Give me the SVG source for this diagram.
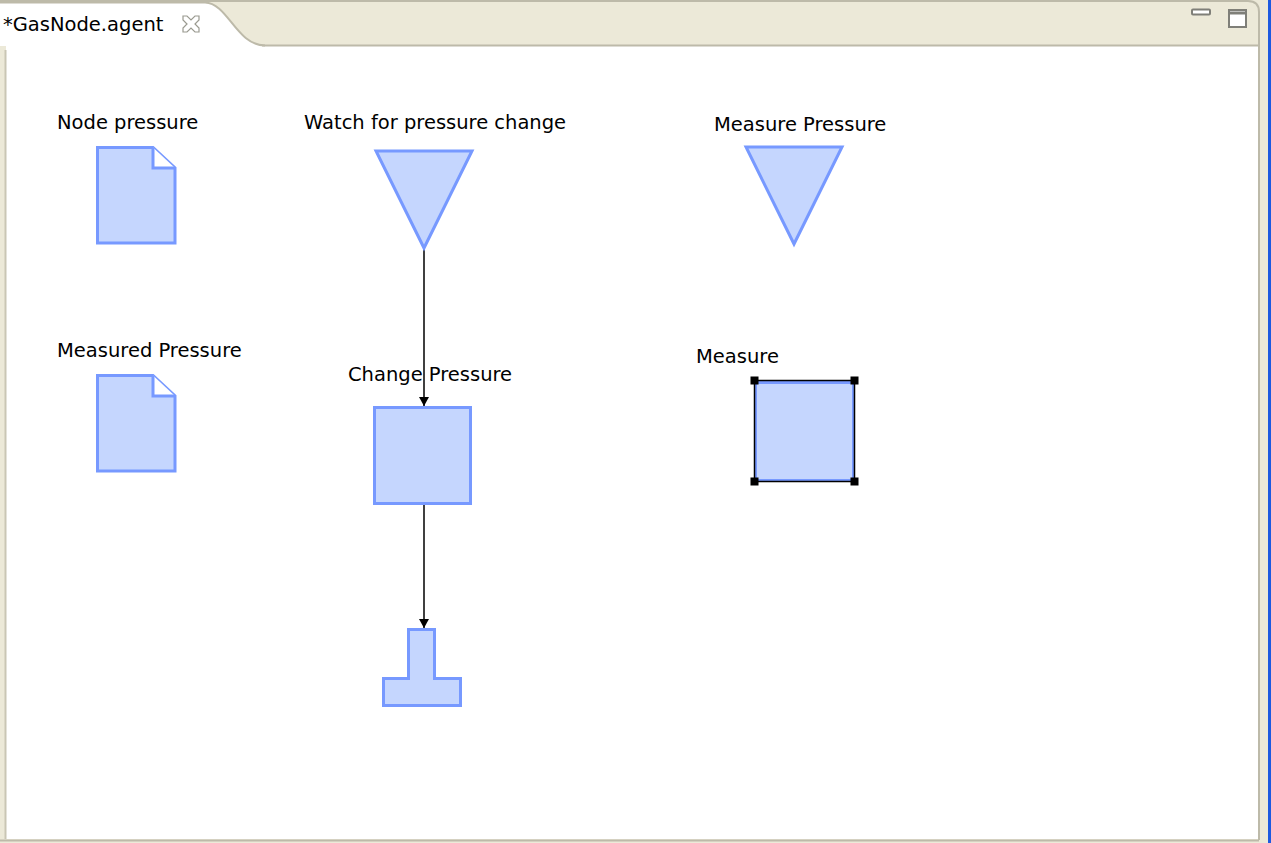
<svg xmlns="http://www.w3.org/2000/svg" width="1271" height="843" viewBox="0 0 1271 843">
<style>
.shape{fill:#C5D6FE;stroke:#7799FF;stroke-width:3;stroke-linejoin:miter}
.lbl{font-family:"DejaVu Sans",Verdana,sans-serif;font-size:19.5px;fill:#000}
.conn{stroke:#000;stroke-width:1.5;fill:none}
.frame{stroke:#BDBAA9;fill:none}
.handle{fill:#000}
</style>
<defs>
<marker id="arr" markerWidth="12" markerHeight="12" refX="9" refY="5" orient="auto" markerUnits="userSpaceOnUse">
<path d="M0,0 L9,5 L0,10 Z" fill="#000"/>
</marker>
</defs>
<g id="window">
<rect x="0" y="0" width="1271" height="843" fill="#ECE9D8"/>
<rect x="1268" y="0" width="3" height="843" fill="#1D5AE0"/>
<path d="M0,1 L1248,1 Q1259,1 1259,12 L1259,840" class="frame" stroke-width="2"/>
<rect x="6" y="46" width="1252" height="793" fill="#FFFFFF"/>
<line x1="5.5" y1="50" x2="5.5" y2="839" stroke="#C9C6B4" stroke-width="2"/>
<line x1="0" y1="840.5" x2="1259" y2="840.5" stroke="#BDBAA9" stroke-width="2"/>
<line x1="262" y1="45.5" x2="1259" y2="45.5" stroke="#BDBAA9" stroke-width="2"/>
<path d="M0,3 L205,3 C228,3 236,45 265,46 L0,46 Z" fill="#FFFFFF"/>
<path d="M0,2.5 L205,2.5 C228,3 236,45 265,45.5" fill="none" stroke="#BDBAA9" stroke-width="2"/>
<text x="3" y="31" class="lbl">*GasNode.agent</text>
<path d="M183,16 L187,16 L191,20 L195,16 L199,16 L199,20 L195,24 L199,28 L199,32 L195,32 L191,28 L187,32 L183,32 L183,28 L187,24 L183,20 Z" fill="none" stroke="#9A9A90" stroke-width="1.2"/>
<rect x="1192" y="9.5" width="18" height="5" rx="1" fill="#FFFFFF" stroke="#7F7F78" stroke-width="2"/>
<rect x="1229" y="10" width="17" height="17" fill="#FFFFFF" stroke="#7F7F78" stroke-width="2"/>
<line x1="1229" y1="13" x2="1246" y2="13" stroke="#7F7F78" stroke-width="3"/>
</g>
<g id="connectors">
<line x1="424" y1="248" x2="424" y2="406" class="conn" marker-end="url(#arr)"/>
<line x1="424" y1="504" x2="424" y2="628" class="conn" marker-end="url(#arr)"/>
</g>
<g id="node-pressure">
<text x="57" y="129" class="lbl">Node pressure</text>
<path d="M97.5,147.5 L153,147.5 L175,168 L175,243 L97.5,243 Z" class="shape"/>
<path d="M153,147.5 L153,168 L175,168" fill="#FFFFFF" stroke="#7799FF" stroke-width="3"/>
</g>
<g id="measured-pressure">
<text x="57" y="357" class="lbl">Measured Pressure</text>
<path d="M97.5,375.5 L153,375.5 L175,396 L175,471 L97.5,471 Z" class="shape"/>
<path d="M153,375.5 L153,396 L175,396" fill="#FFFFFF" stroke="#7799FF" stroke-width="3"/>
</g>
<g id="watch-for-pressure-change">
<text x="304" y="129" class="lbl">Watch for pressure change</text>
<path d="M376,151 L472,151 L424,248 Z" class="shape" stroke-width="2.5"/>
</g>
<g id="measure-pressure">
<text x="714" y="131" class="lbl">Measure Pressure</text>
<path d="M746,147 L842,147 L794,244 Z" class="shape" stroke-width="2"/>
</g>
<g id="change-pressure">
<text x="348" y="381" class="lbl">Change Pressure</text>
<rect x="374.5" y="407.5" width="96" height="96" class="shape"/>
</g>
<g id="measure">
<text x="696" y="363" class="lbl">Measure</text>
<rect x="755.5" y="382.5" width="98" height="98" class="shape"/>
<rect x="754.5" y="380.5" width="100" height="101" fill="none" stroke="#000" stroke-width="1.5"/>
<rect x="750.5" y="376.5" width="8" height="8" class="handle"/>
<rect x="850.5" y="376.5" width="8" height="8" class="handle"/>
<rect x="750.5" y="477.5" width="8" height="8" class="handle"/>
<rect x="850.5" y="477.5" width="8" height="8" class="handle"/>
</g>
<g id="end-node">
<path d="M408.5,629.5 L434.5,629.5 L434.5,678.5 L460.5,678.5 L460.5,705.5 L383.5,705.5 L383.5,678.5 L408.5,678.5 Z" class="shape"/>
</g>
</svg>
